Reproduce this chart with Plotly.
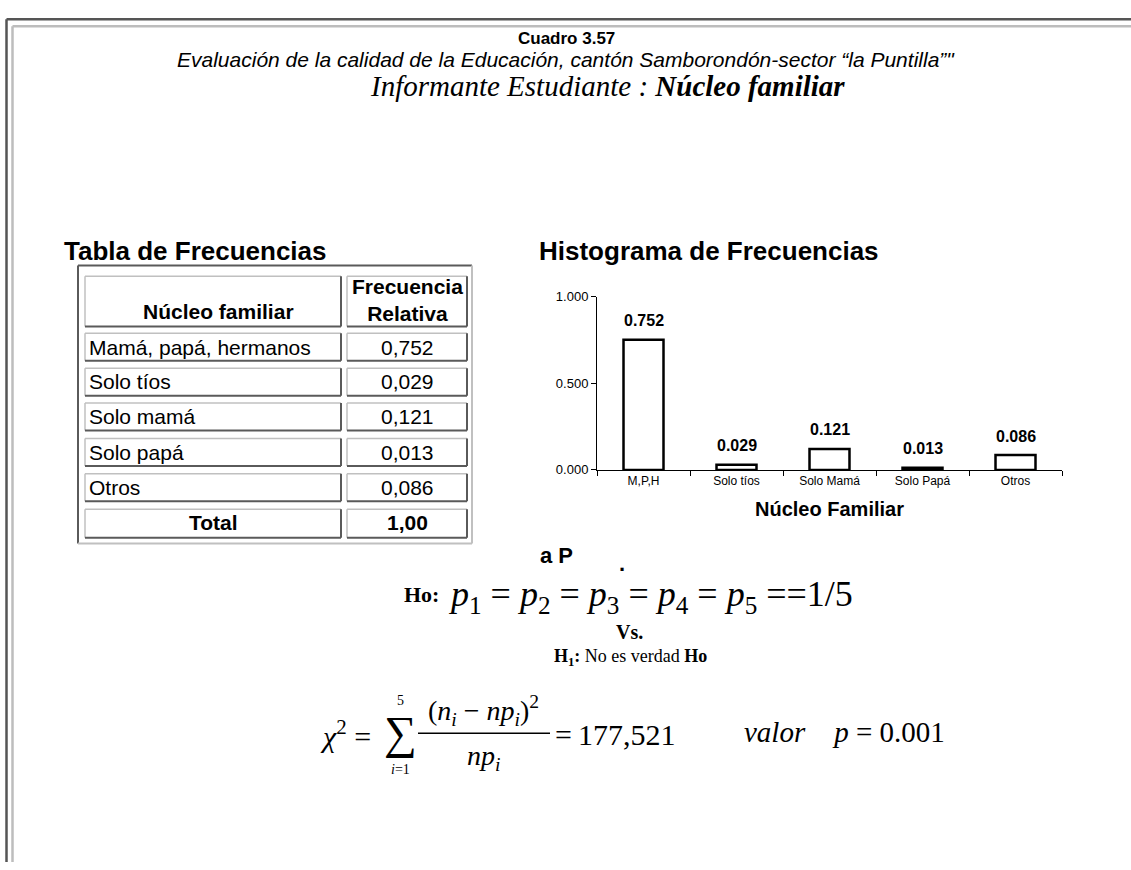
import plotly.graph_objects as go

# datos del cuadro
categorias = ["M,P,H", "Solo tíos", "Solo Mamá", "Solo Papá", "Otros"]
filas_tabla = ["Mamá, papá, hermanos", "Solo tíos", "Solo mamá", "Solo papá", "Otros"]
frecuencias = [0.752, 0.029, 0.121, 0.013, 0.086]
total_texto = "1,00"
y_ticks = [0.0, 0.5, 1.0]
chi_cuadrado = "177,521"
valor_p = "0.001"

W, H = 1131, 870
SANS = "Liberation Sans, Arial, sans-serif"
SERIF = "Liberation Serif, Times New Roman, serif"
DARK = "#5a5a5a"
LIGHT = "#c0c0c0"


def px(x):
    return x / W


def py(y):
    return 1 - y / H


fig = go.Figure()

# histograma
fig.add_trace(go.Bar(x=categorias, y=frecuencias,
                     marker=dict(color="white", line=dict(color="black", width=2.5)),
                     hoverinfo="x+y"))

for c, v in zip(categorias, frecuencias):
    fig.add_annotation(x=c, y=v, xref="x", yref="y", yshift=19, showarrow=False,
                       text="<b>%.3f</b>" % v, font=dict(family=SANS, size=16, color="black"))

fig.update_xaxes(domain=[px(597), px(1062)], showline=True, linecolor="black", linewidth=1,
                 ticks="outside", tickson="boundaries", ticklen=5, tickcolor="black",
                 tickfont=dict(family=SANS, size=12, color="black"), showgrid=False,
                 title=dict(text="<b>Núcleo Familiar</b>", font=dict(family=SANS, size=20, color="black"),
                            standoff=14))
fig.update_yaxes(domain=[py(471), py(295)], range=[0, 1.0], showline=True, linecolor="black",
                 linewidth=1, ticks="outside", ticklen=5, tickcolor="black", tickvals=y_ticks,
                 tickformat=".3f", tickfont=dict(family=SANS, size=13, color="black"),
                 showgrid=False, zeroline=False)

shapes = []
annotations = []


def line(x0, y0, x1, y1, color, width):
    shapes.append(dict(type="line", xref="paper", yref="paper", x0=px(x0), y0=py(y0),
                       x1=px(x1), y1=py(y1), line=dict(color=color, width=width)))


def text(x, y, s, size, family=SANS, xanchor="center", color="black"):
    annotations.append(dict(x=px(x), y=py(y), xref="paper", yref="paper", text=s,
                            showarrow=False, xanchor=xanchor, yanchor="middle",
                            font=dict(family=family, size=size, color=color)))


# marco de la pagina
line(6.5, 12.5, 6.5, H, "#555555", 2.5)
line(6.5, 12.5, W, 12.5, "#555555", 2.5)
line(12.5, 19.5, 12.5, H, "#bdbdbd", 2.5)
line(12.5, 19.5, W, 19.5, "#bdbdbd", 2.5)

# encabezado
text(566, 32, "<b>Cuadro 3.57</b>", 17)
text(566, 53, "<i>Evaluación de la calidad de la Educación, cantón Samborondón-sector “la Puntilla”\"</i>", 21)
text(368, 80, "<i>Informante Estudiante : <b>Núcleo familiar</b></i>", 29, SERIF, "left")

# titulos
text(62, 248, "<b>Tabla de Frecuencias</b>", 26, xanchor="left")
text(537, 248, "<b>Histograma de Frecuencias</b>", 26, xanchor="left")

# tabla
line(78, 263, 472, 263, DARK, 2)
line(78, 263, 78, 546, DARK, 2)
line(78, 546, 472, 546, LIGHT, 2)
line(472, 263, 472, 546, LIGHT, 2)


def cell(x0, y0, x1, y1):
    line(x0, y0, x1, y0, LIGHT, 1.5)
    line(x0, y0, x0, y1, LIGHT, 1.5)
    line(x0, y1, x1, y1, DARK, 2)
    line(x1, y0, x1, y1, DARK, 2)


c1 = (85, 341)
c2 = (347, 467)
cell(c1[0], 274, c1[1], 325)
cell(c2[0], 274, c2[1], 325)
text((c1[0] + c1[1]) / 2 + 5, 310, "<b>Núcleo familiar</b>", 21)
text((c2[0] + c2[1]) / 2, 298, "<b>Frecuencia<br>Relativa</b>", 21)

tops = [332, 367.5, 403, 439, 475]
for t, nombre, v in zip(tops, filas_tabla, frecuencias):
    cell(c1[0], t, c1[1], t + 28)
    cell(c2[0], t, c2[1], t + 28)
    text(87, t + 14, nombre, 21, xanchor="left")
    text((c2[0] + c2[1]) / 2, t + 14, ("%.3f" % v).replace(".", ","), 21)

cell(c1[0], 511, c1[1], 540)
cell(c2[0], 511, c2[1], 540)
text((c1[0] + c1[1]) / 2, 525, "<b>Total</b>", 21)
text((c2[0] + c2[1]) / 2, 525, "<b>" + total_texto + "</b>", 21)

# prueba de hipotesis
text(538, 558, "<b>a P</b>", 22, xanchor="left")
text(622, 566, "<b>.</b>", 22)
text(402, 598, "<b>Ho:</b>", 22, SERIF, "left")
text(446, 600, "<i>p</i><sub>1</sub> = <i>p</i><sub>2</sub> = <i>p</i><sub>3</sub> = "
     "<i>p</i><sub>4</sub> = <i>p</i><sub>5</sub> ==1/5", 36, SERIF, "left")
text(629, 636, "<b>Vs.</b>", 20, SERIF)
text(630, 662, "<b>H<sub>1</sub>:</b> No es verdad <b>Ho</b>", 18, SERIF)

# estadistico chi cuadrado
text(318, 740, "<i>χ</i><sup>2</sup> =", 30, SERIF, "left")
text(400, 738, "∑", 46, SERIF)
text(400, 706, "5", 14, SERIF)
text(400, 776, "<i>i</i>=1", 14, SERIF)
text(484, 716, "(<i>n<sub>i</sub></i> − <i>np<sub>i</sub></i>)<sup>2</sup>", 28, SERIF)
line(418, 739, 550, 739, "black", 1.5)
text(484, 764, "<i>np<sub>i</sub></i>", 28, SERIF)
text(553, 740, "=\u2009" + chi_cuadrado, 30, SERIF, "left")
text(742, 738, "<i>valor</i>    <i>p</i> = " + valor_p, 29, SERIF, "left")

fig.update_layout(width=W, height=H, margin=dict(l=0, r=0, t=0, b=0),
                  paper_bgcolor="white", plot_bgcolor="white", showlegend=False,
                  bargap=0.57, shapes=shapes)
for a in annotations:
    fig.add_annotation(**a)

# la pagina no debe tener margen para que el dibujo quede en su sitio
fig.write_html("out.html", config={"displayModeBar": False},
               post_script="document.body.style.margin='0';document.body.style.overflow='hidden';")
